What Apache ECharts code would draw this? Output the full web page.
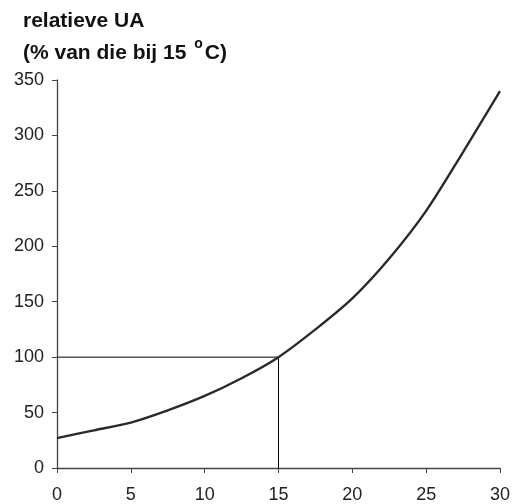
<!DOCTYPE html>
<html>
<head>
<meta charset="utf-8">
<script src="https://cdn.jsdelivr.net/npm/echarts@6/dist/echarts.min.js"></script>
<style>html,body{margin:0;padding:0;background:#fff}#c{width:513px;height:504px}</style>
</head>
<body>
<div id="c"></div>
<script>
// Temperature (°C)
const temps = [0, 2.5, 5, 7.5, 10, 12.5, 15, 17.5, 20, 22.5, 25, 27.5, 30];
// relative UA (% of value at 15 °C)
const relUA = [27, 34, 41, 52, 65, 81, 100, 125, 153, 189, 232, 285, 340];
// reference guide: 100% at 15 °C
const guideX = [0, 15, 15];
const guideY = [100, 100, 0];

const chart = echarts.init(document.getElementById('c'), null, {renderer: 'canvas'});
chart.setOption({
  animation: false,
  backgroundColor: '#fff',
  title: {
    text: 'relatieve UA\n(% van die bij 15 {sup|o}C)',
    left: 18,
    top: 0,
    textStyle: {
      fontFamily: 'Liberation Sans, Arial, sans-serif',
      fontSize: 21,
      fontWeight: 'bold',
      color: '#111',
      lineHeight: 32,
      rich: {
        sup: {
          fontFamily: 'Liberation Sans, Arial, sans-serif',
          fontSize: 14,
          fontWeight: 'bold',
          color: '#111',
          verticalAlign: 'top',
          padding: [0, 2, 12, 2]
        }
      }
    }
  },
  grid: {left: 57, right: 12, top: 80, bottom: 35, containLabel: false},
  xAxis: {
    type: 'value', min: 0, max: 30, interval: 5,
    axisLine: {show: true, lineStyle: {color: '#444', width: 1.3}},
    axisTick: {show: true, length: 5, lineStyle: {color: '#444'}},
    splitLine: {show: false},
    axisLabel: {margin: 18, fontSize: 18, color: '#222', fontFamily: 'Liberation Sans, Arial, sans-serif'}
  },
  yAxis: {
    type: 'value', min: 0, max: 350, interval: 50,
    axisLine: {show: true, lineStyle: {color: '#444', width: 1.3}},
    axisTick: {show: true, length: 5, lineStyle: {color: '#444'}},
    splitLine: {show: false},
    axisLabel: {margin: 13, fontSize: 18, color: '#222', fontFamily: 'Liberation Sans, Arial, sans-serif'}
  },
  series: [
    {
      type: 'line',
      data: guideX.map((x, i) => [x, guideY[i]]),
      symbol: 'none',
      lineStyle: {color: '#000', width: 1},
      z: 1
    },
    {
      type: 'line',
      data: temps.map((t, i) => [t, relUA[i]]),
      smooth: 0.3,
      symbol: 'none',
      lineStyle: {color: '#2a2a2a', width: 2.4},
      z: 2
    }
  ]
});
</script>
</body>
</html>
